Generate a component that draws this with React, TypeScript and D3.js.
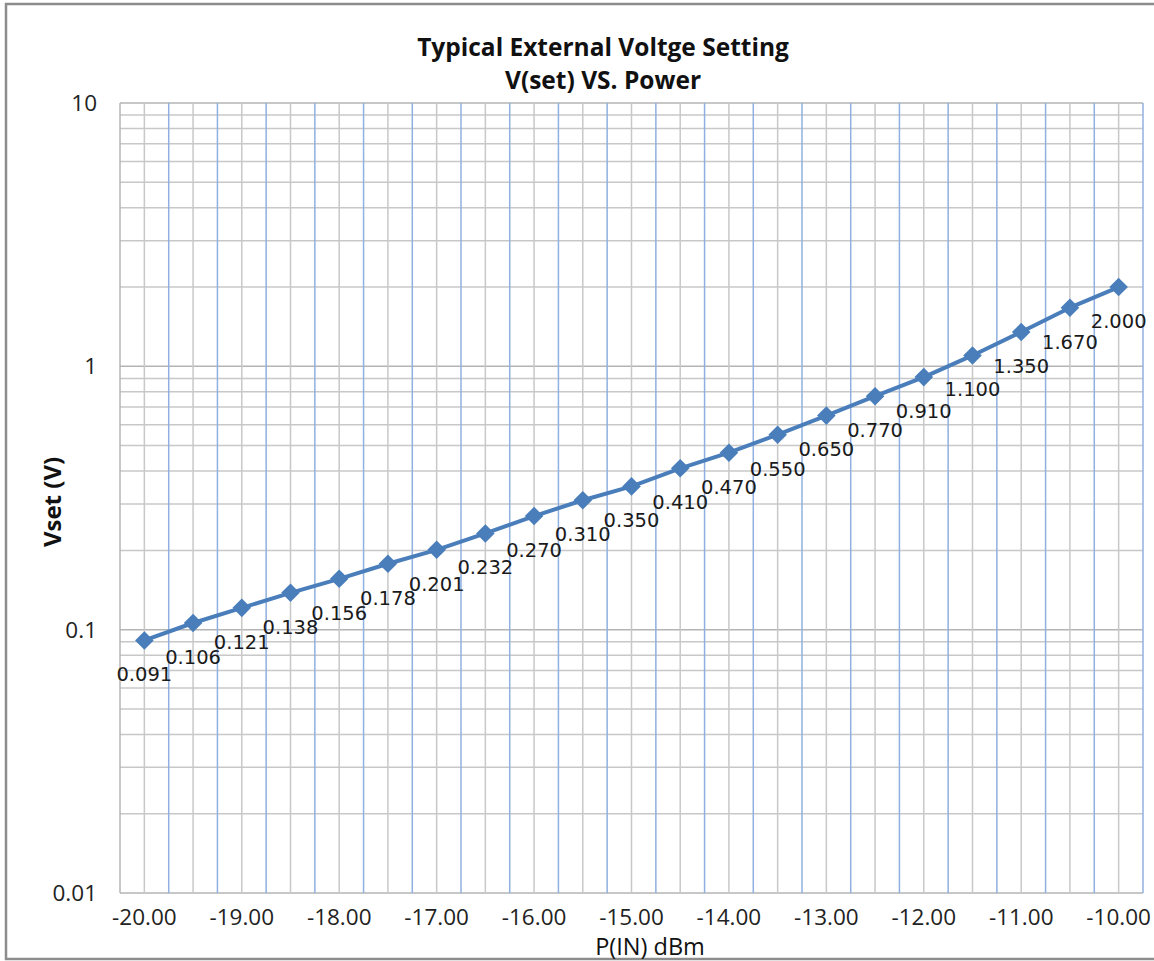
import React from 'react';
import * as d3 from 'd3';

// P(IN) in dBm, one category per point
const powerLevels = [
  '-20.00', '-19.50', '-19.00', '-18.50', '-18.00', '-17.50', '-17.00',
  '-16.50', '-16.00', '-15.50', '-15.00', '-14.50', '-14.00', '-13.50',
  '-13.00', '-12.50', '-12.00', '-11.50', '-11.00', '-10.50', '-10.00',
];

// Vset readings (V)
const vsetValues = [
  0.091, 0.106, 0.121, 0.138, 0.156, 0.178, 0.201, 0.232, 0.27, 0.31, 0.35,
  0.41, 0.47, 0.55, 0.65, 0.77, 0.91, 1.1, 1.35, 1.67, 2.0,
];

const yTickValues = [0.01, 0.1, 1, 10];
const yTickLabels = ['0.01', '0.1', '1', '10'];

const width = 1154;
const height = 961;
const margin = { top: 103, right: 11, bottom: 68, left: 120 };

const App: React.FC = () => {
  const x = d3
    .scaleBand<string>()
    .domain(powerLevels)
    .range([margin.left, width - margin.right]);
  const y = d3
    .scaleLog()
    .domain([0.01, 10])
    .range([height - margin.bottom, margin.top]);

  const bw = x.bandwidth();
  const cx = (c: string) => (x(c) as number) + bw / 2;
  const [x0, x1] = x.range();
  const [yb, yt] = y.range();

  // minor log lines 2..9 of every decade
  const minorTicks: number[] = [];
  [0.01, 0.1, 1].forEach(d => {
    for (let m = 2; m <= 9; m++) minorTicks.push(d * m);
  });

  const points = powerLevels.map((p, i) => ({ p, v: vsetValues[i] }));
  const line = d3
    .line<{ p: string; v: number }>()
    .x(d => cx(d.p))
    .y(d => y(d.v));

  const diamond = d3.symbol(d3.symbolDiamond2, 220)();

  const font = "'Open Sans', sans-serif";

  return (
    <svg
      width={width}
      height={height}
      style={{ position: 'absolute', left: 0, top: 0, background: '#fff' }}
    >
      <rect x={6} y={4} width={width + 10} height={955} fill="#fff" stroke="#8c8c8c" strokeWidth={2.5} />

      {/* horizontal grid */}
      <g stroke="#c8c8c8" strokeWidth={1.5}>
        {minorTicks.map(t => (
          <line key={'m' + t} x1={x0} x2={x1} y1={y(t)} y2={y(t)} />
        ))}
        {yTickValues.map(t => (
          <line key={'M' + t} x1={x0} x2={x1} y1={y(t)} y2={y(t)} stroke="#b4b4b4" />
        ))}
      </g>

      {/* vertical grid: gray at categories, blue at boundaries */}
      <g strokeWidth={1.5}>
        {powerLevels.map(p => (
          <line key={'c' + p} x1={cx(p)} x2={cx(p)} y1={yt} y2={yb} stroke="#c8c8c8" />
        ))}
        {powerLevels.map(p => (
          <line
            key={'b' + p}
            x1={(x(p) as number) + bw}
            x2={(x(p) as number) + bw}
            y1={yt}
            y2={yb}
            stroke="#8fb0e0"
          />
        ))}
        <line x1={x0} x2={x0} y1={yt} y2={yb} stroke="#b4b4b4" />
      </g>

      {/* y tick labels */}
      <g fontFamily={font} fontSize={22.5} fill="#222" textAnchor="end">
        {yTickValues.map((t, i) => (
          <text key={t} x={97} y={y(t)} dy="0.35em">
            {yTickLabels[i]}
          </text>
        ))}
      </g>

      {/* x tick labels every other category */}
      <g fontFamily={font} fontSize={22.5} fill="#222" textAnchor="middle">
        {powerLevels
          .filter((_, i) => i % 2 === 0)
          .map(p => (
            <text key={p} x={cx(p)} y={925}>
              {p}
            </text>
          ))}
      </g>

      {/* series */}
      <path d={line(points) || ''} fill="none" stroke="#4a7ebb" strokeWidth={4} strokeLinejoin="round" />
      {points.map(d => (
        <path key={d.p} d={diamond || ''} transform={`translate(${cx(d.p)},${y(d.v)})`} fill="#4a7ebb" />
      ))}

      {/* data labels below points */}
      <g fontFamily="'DejaVu Sans', sans-serif" fontSize={19.5} fill="#1a1a1a" textAnchor="middle">
        {points.map(d => (
          <text key={d.p} x={cx(d.p)} y={y(d.v) + 34} dy="0.35em">
            {d.v.toFixed(3)}
          </text>
        ))}
      </g>

      {/* titles */}
      <g fontFamily={font} fontWeight="bold" fontSize={24.5} fill="#111" textAnchor="middle">
        <text x={603} y={56}>Typical External Voltge Setting</text>
        <text x={603} y={89}>V(set) VS. Power</text>
      </g>
      <text
        transform={`translate(61,${(yt + yb) / 2 + 4}) rotate(-90)`}
        fontFamily={font}
        fontWeight="bold"
        fontSize={24}
        fill="#111"
        textAnchor="middle"
      >
        Vset (V)
      </text>
      <text x={650} y={955} fontFamily={font} fontSize={23.5} fill="#111" textAnchor="middle">
        P(IN) dBm
      </text>
    </svg>
  );
};

export default App;
